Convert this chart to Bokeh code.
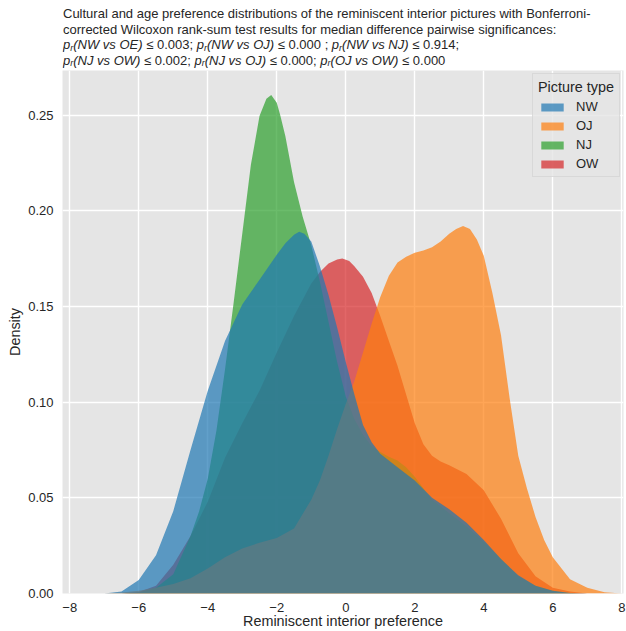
from bokeh.plotting import figure
from bokeh.layouts import column
from bokeh.models import Legend, LegendItem, FixedTicker, NumeralTickFormatter, ColumnDataSource, Range1d
from bokeh.core.properties import value
from bokeh.embed import file_html
from bokeh.resources import INLINE

# ---------------- data ----------------
series_names = ["NW", "OJ", "NJ", "OW"]

nw_x = [-7, -6.5, -6, -5.5, -5, -4.5, -4, -3.5, -3, -2.5, -2, -1.75, -1.5, -1.35, -1.2, -1, -0.75, -0.5, -0.25, 0,
        0.25, 0.5, 0.75, 1, 1.5, 2, 2.5, 3, 3.5, 4, 4.5, 5, 5.5, 6, 6.5, 7]
nw_y = [0, 0.001, 0.007, 0.02, 0.043, 0.075, 0.106, 0.132, 0.151, 0.164, 0.177, 0.183, 0.1875, 0.189, 0.188, 0.184, 0.171, 0.156, 0.139, 0.121,
        0.104, 0.088, 0.079, 0.073, 0.066, 0.059, 0.05, 0.044, 0.037, 0.028, 0.018, 0.0095, 0.004, 0.0015, 0.0003, 0]

oj_x = [-7, -6.5, -6, -5.5, -5, -4.5, -4, -3.5, -3, -2.5, -2, -1.5, -1, -0.75, -0.5, -0.25, 0, 0.25, 0.5, 0.75,
        1, 1.25, 1.5, 1.75, 2, 2.25, 2.5, 2.75, 3, 3.2, 3.4, 3.6, 3.8, 4, 4.25, 4.5, 4.75, 5, 5.25, 5.5,
        5.75, 6, 6.5, 7, 7.5, 8]
oj_y = [0, 0.0005, 0.0015, 0.003, 0.005, 0.008, 0.013, 0.019, 0.0235, 0.0265, 0.029, 0.034, 0.049, 0.059, 0.072, 0.086, 0.099, 0.111, 0.126, 0.141,
        0.155, 0.166, 0.173, 0.176, 0.178, 0.1792, 0.181, 0.184, 0.188, 0.1905, 0.192, 0.1905, 0.185, 0.1765, 0.157, 0.135, 0.102, 0.072, 0.055, 0.04,
        0.028, 0.019, 0.0075, 0.003, 0.0007, 0]

nj_x = [-6.5, -6, -5.5, -5, -4.5, -4.25, -4, -3.75, -3.5, -3.25, -3, -2.75, -2.5, -2.3, -2.16, -2, -1.9, -1.75, -1.5, -1.25,
        -1, -0.75, -0.5, -0.25, 0, 0.25, 0.5, 0.75, 1, 1.25, 1.5, 1.75, 2, 2.5, 3, 3.5, 4, 4.5, 5, 5.5,
        6, 6.5, 7]
nj_y = [0, 0.0005, 0.003, 0.01, 0.03, 0.043, 0.06, 0.085, 0.117, 0.152, 0.188, 0.224, 0.2495, 0.2585, 0.2605, 0.2565, 0.25, 0.239, 0.215, 0.197,
        0.182, 0.163, 0.142, 0.121, 0.103, 0.091, 0.083, 0.077, 0.074, 0.0715, 0.0695, 0.066, 0.061, 0.049, 0.042, 0.035, 0.027, 0.018, 0.009, 0.004,
        0.0015, 0.0003, 0]

ow_x = [-6.5, -6, -5.5, -5, -4.5, -4, -3.5, -3, -2.5, -2, -1.5, -1, -0.75, -0.5, -0.25, -0.1, 0.1, 0.25, 0.5, 0.75,
        1, 1.25, 1.5, 1.75, 2, 2.25, 2.5, 2.75, 3, 3.5, 4, 4.5, 5, 5.5, 6, 6.5, 7]
ow_y = [0, 0.0008, 0.004, 0.015, 0.03, 0.048, 0.071, 0.089, 0.106, 0.126, 0.145, 0.162, 0.168, 0.1725, 0.1745, 0.175, 0.1738, 0.171, 0.1655, 0.157,
        0.145, 0.132, 0.119, 0.104, 0.089, 0.078, 0.072, 0.069, 0.067, 0.0625, 0.054, 0.039, 0.021, 0.009, 0.003, 0.001, 0]

x_ticks = [-8, -6, -4, -2, 0, 2, 4, 6, 8]
y_ticks = [0.0, 0.05, 0.10, 0.15, 0.20, 0.25]

title_lines = [
    [("Cultural and age preference distributions of the reminiscent interior pictures with Bonferroni-", "n")],
    [("corrected Wilcoxon rank-sum test results for median difference pairwise significances:", "n")],
    [("p", "i"), ("r", "s"), ("(NW vs OE)", "i"), (" \u2264 0.003; ", "n"),
     ("p", "i"), ("r", "s"), ("(NW vs OJ)", "i"), (" \u2264 0.000 ; ", "n"),
     ("p", "i"), ("r", "s"), ("(NW vs NJ)", "i"), (" \u2264 0.914;", "n")],
    [("p", "i"), ("r", "s"), ("(NJ vs OW)", "i"), (" \u2264 0.002; ", "n"),
     ("p", "i"), ("r", "s"), ("(NJ vs OJ)", "i"), (" \u2264 0.000; ", "n"),
     ("p", "i"), ("r", "s"), ("(OJ vs OW)", "i"), (" \u2264 0.000", "n")],
]

# ---------------- styling ----------------
FONT = "Liberation Sans"
TXT = "#262626"
COLORS = {"NW": "#1f77b4", "OJ": "#ff7f0e", "NJ": "#2ca02c", "OW": "#d62728"}
ALPHA = 0.7

PAGE_W = 626
TITLE_H = 70
MAIN_H = 561
BL, BR = 62, 3   # main-frame borders (the title strip's frame is aligned to them)

# ---------------- title strip (its own small figure, pixel coordinates) ----------------
AW = {' ': 278, '(': 333, ')': 333, ';': 278, '.': 278, '\u2264': 549, 'p': 556, 'r': 333,
      'N': 722, 'W': 944, 'O': 778, 'E': 667, 'J': 500, 'v': 500, 's': 500}
FS, SUB = 13.0, 9.1
X0 = 62.5
baselines = [13.0, 28.5, 44.0, 59.5]


def wid(s, size):
    return sum(AW.get(c, 556) for c in s) * size / 1000.0


tx, ty, tt, tsz, tst = [], [], [], [], []
for segs, base in zip(title_lines, baselines):
    x = X0
    for txt, sty in segs:
        size = SUB if sty == "s" else FS
        lead = len(txt) - len(txt.lstrip(" "))
        tx.append(x + lead * 278 * size / 1000.0)
        ty.append(base + (3.0 if sty == "s" else 0.0))
        tt.append(txt.strip(" "))
        tsz.append(f"{size}px")
        tst.append("italic" if sty in ("i", "s") else "normal")
        x += wid(txt, size)

tfig = figure(width=PAGE_W, height=TITLE_H, output_backend="svg", toolbar_location=None,
              x_range=Range1d(BL, PAGE_W - BR), y_range=Range1d(TITLE_H, 0),
              x_axis_type=None, y_axis_type=None,
              min_border_left=BL, min_border_right=BR, min_border_top=0, min_border_bottom=0)
tfig.grid.visible = False
tfig.outline_line_color = None
tfig.background_fill_color = "white"
tfig.border_fill_color = "white"
tsrc = ColumnDataSource(dict(x=tx, y=ty, text=tt, size=tsz, style=tst))
tfig.text(x="x", y="y", text="text", source=tsrc, text_font=value(FONT), text_font_size="size",
          text_font_style="style", text_color=TXT, text_baseline="alphabetic", text_align="left")

# ---------------- main chart ----------------
p = figure(width=PAGE_W, height=MAIN_H, output_backend="svg", toolbar_location=None,
           x_range=(-8.21, 8.05), y_range=(0, 0.2733),
           min_border_left=BL, min_border_right=BR, min_border_top=0, min_border_bottom=38)
p.background_fill_color = "#e5e5e5"
p.border_fill_color = "white"
p.outline_line_color = None

for ax in (p.xaxis, p.yaxis):
    ax.axis_line_color = None
    ax.major_tick_line_color = None
    ax.minor_tick_line_color = None
    ax.major_tick_out = 0
    ax.major_tick_in = 0
    ax.minor_tick_out = 0
    ax.minor_tick_in = 0
    ax.major_label_text_font = FONT
    ax.major_label_text_font_size = "13px"
    ax.major_label_text_color = TXT
    ax.axis_label_text_font = FONT
    ax.axis_label_text_font_size = "14.4px"
    ax.axis_label_text_font_style = "normal"
    ax.axis_label_text_color = TXT

p.xaxis.ticker = FixedTicker(ticks=x_ticks)
p.xaxis.major_label_overrides = {t: (str(t).replace("-", "\u2212")) for t in x_ticks}
p.yaxis.ticker = FixedTicker(ticks=y_ticks)
p.yaxis.formatter = NumeralTickFormatter(format="0.00")
p.xaxis.major_label_standoff = 9
p.yaxis.major_label_standoff = 9
p.xaxis.axis_label_standoff = -2
p.yaxis.axis_label_standoff = 2
p.xaxis.axis_label = "Reminiscent interior preference"
p.yaxis.axis_label = "Density"

p.grid.grid_line_color = "white"
p.grid.grid_line_width = 1.4
p.xgrid.ticker = FixedTicker(ticks=x_ticks)
p.ygrid.ticker = FixedTicker(ticks=y_ticks)

data = {"NW": (nw_x, nw_y), "OJ": (oj_x, oj_y), "NJ": (nj_x, nj_y), "OW": (ow_x, ow_y)}
renderers = {}
for name in reversed(series_names):  # first hue drawn on top
    xs, ys = data[name]
    renderers[name] = p.varea(x=xs, y1=[0] * len(xs), y2=ys, fill_color=COLORS[name], fill_alpha=ALPHA)

legend = Legend(items=[LegendItem(label=n, renderers=[renderers[n]]) for n in series_names],
                location="top_right", title="Picture type")
legend.title_text_font = FONT
legend.title_text_font_size = "14.4px"
legend.title_text_font_style = "normal"
legend.title_text_color = TXT
legend.title_standoff = 4
legend.label_text_font = FONT
legend.label_text_font_size = "13px"
legend.label_text_color = TXT
legend.glyph_width = 28
legend.glyph_height = 10
legend.label_height = 15
legend.label_standoff = 10
legend.spacing = 4
legend.padding = 5
legend.margin = 3
legend.background_fill_color = "#e5e5e5"
legend.background_fill_alpha = 0.8
legend.border_line_color = "#cccccc"
legend.border_line_width = 1
p.add_layout(legend)

layout = column(tfig, p, spacing=0)
open("out.html", "w").write(file_html(layout, INLINE))
